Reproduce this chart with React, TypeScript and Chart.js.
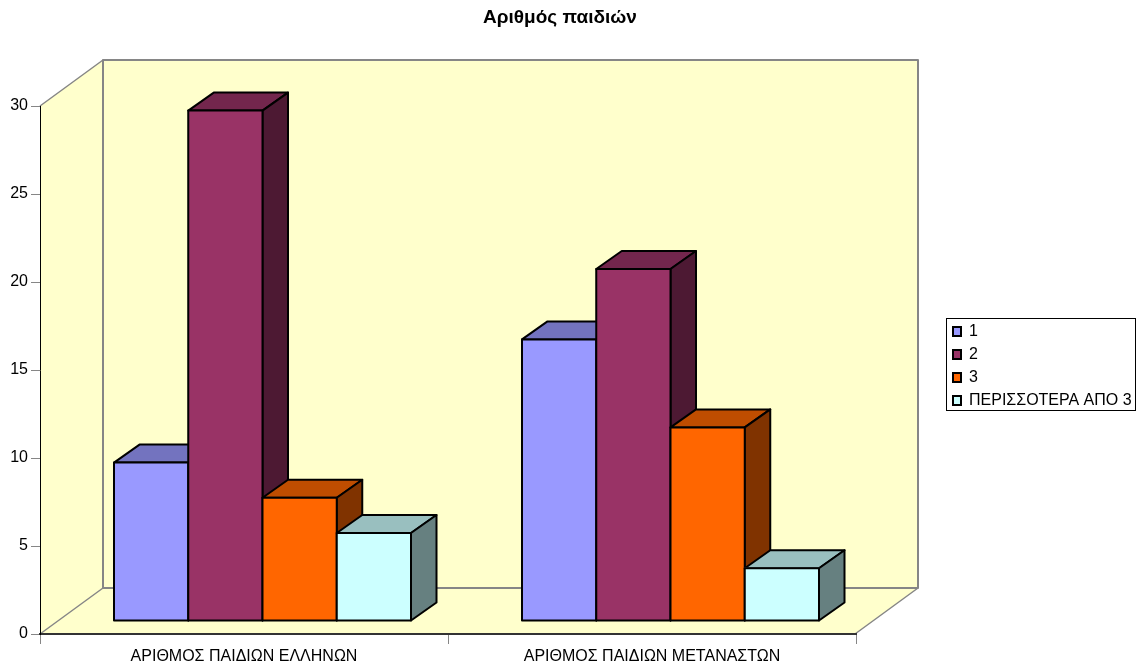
import React, { useEffect, useRef } from "react";
import { Chart, registerables } from "chart.js";

Chart.register(...registerables);

// Chart values
const categories = ["ΑΡΙΘΜΟΣ ΠΑΙΔΙΩΝ ΕΛΛΗΝΩΝ", "ΑΡΙΘΜΟΣ ΠΑΙΔΙΩΝ ΜΕΤΑΝΑΣΤΩΝ"];
const seriesNames = ["1", "2", "3", "ΠΕΡΙΣΣΟΤΕΡΑ ΑΠΟ 3"];
const seriesOne = [9, 16];
const seriesTwo = [29, 20];
const seriesThree = [7, 11];
const seriesMore = [5, 3];

// Face colours: front, top (darkened) and side (darker still)
const frontColors = ["#9999FF", "#993366", "#FF6600", "#CCFFFF"];
const topColors = ["#7373BF", "#73264D", "#BF4D00", "#99BFBF"];
const sideColors = ["#4D4D80", "#4D1933", "#803300", "#668080"];

const FONT = "'Liberation Sans', Arial, sans-serif";
const WALL = "#FFFFCC";
const WALL_EDGE = "#868686";
const LINE = "#000000";
const EDGE_WIDTH = 2;

// Perspective offsets of the box: the whole room, and a single bar
const ROOM = { dx: 63, dy: -46 };
const BAR = { dx: 25.5, dy: -18 };
// Bars stand on the middle of the floor
const FLOOR_SHIFT = { x: 18.5, y: -13 };

const polygon = (ctx: CanvasRenderingContext2D, pts: number[][], fill: string | null, stroke: string | null, width = 1) => {
  ctx.beginPath();
  pts.forEach(([x, y], i) => (i ? ctx.lineTo(x, y) : ctx.moveTo(x, y)));
  ctx.closePath();
  if (fill) {
    ctx.fillStyle = fill;
    ctx.fill();
  }
  if (stroke) {
    ctx.strokeStyle = stroke;
    ctx.lineWidth = width;
    ctx.lineJoin = "round";
    ctx.stroke();
  }
};

const roomPlugin = {
  id: "room",
  afterLayout(chart: any) {
    // Legend and title sit apart from the plot area
    const legend = chart.legend;
    legend.left = 946;
    legend.top = 316.5;
    legend.right = legend.left + legend.width;
    legend.bottom = legend.top + legend.height;
    const title = chart.titleBlock;
    title.left = 0;
    title.right = 1120;
  },
  beforeDraw(chart: any) {
    const { ctx, chartArea: a } = chart;
    const { dx, dy } = ROOM;
    const right = a.right - 1;
    ctx.save();
    // side wall, floor and back wall
    polygon(ctx, [[a.left, a.top], [a.left + dx, a.top + dy], [a.left + dx, a.bottom + dy], [a.left, a.bottom]], WALL, null);
    polygon(ctx, [[a.left, a.bottom], [a.left + dx, a.bottom + dy], [right + dx, a.bottom + dy], [right, a.bottom]], WALL, null);
    polygon(ctx, [[a.left + dx, a.top + dy], [right + dx, a.top + dy], [right + dx, a.bottom + dy], [a.left + dx, a.bottom + dy]], WALL, WALL_EDGE, 2);
    ctx.strokeStyle = WALL_EDGE;
    ctx.lineWidth = 1.5;
    ctx.beginPath();
    ctx.moveTo(a.left, a.top);
    ctx.lineTo(a.left + dx, a.top + dy);
    ctx.moveTo(a.left, a.bottom);
    ctx.lineTo(a.left + dx, a.bottom + dy);
    ctx.moveTo(right, a.bottom);
    ctx.lineTo(right + dx, a.bottom + dy);
    ctx.stroke();
    ctx.restore();
  },
  beforeDatasetsDraw(chart: any) {
    // Bars are painted left to right so each one hides its neighbour's side face
    const { ctx } = chart;
    const { dx, dy } = BAR;
    ctx.save();
    ctx.translate(FLOOR_SHIFT.x, FLOOR_SHIFT.y);
    seriesNames.forEach((_, i) => {
      const meta = chart.getDatasetMeta(i);
      meta.data.forEach((bar: any) => {
        const { x, y, base, width } = bar.getProps(["x", "y", "base", "width"], true);
        const l = x - width / 2;
        const r = x + width / 2;
        polygon(ctx, [[l, y], [l + dx, y + dy], [r + dx, y + dy], [r, y]], topColors[i], LINE, EDGE_WIDTH);
        polygon(ctx, [[r, y], [r + dx, y + dy], [r + dx, base + dy], [r, base]], sideColors[i], LINE, EDGE_WIDTH);
        bar.draw(ctx, chart.chartArea);
        polygon(ctx, [[l, y], [r, y], [r, base], [l, base]], null, LINE, EDGE_WIDTH);
      });
    });
    ctx.restore();
  },
  beforeDatasetDraw() {
    return false;
  },
  afterDraw(chart: any) {
    // Frame round the legend
    const { ctx } = chart;
    ctx.save();
    ctx.strokeStyle = LINE;
    ctx.lineWidth = 1;
    ctx.strokeRect(946.5, 318.5, 189, 92);
    ctx.restore();
  },
};

export default function App() {
  const ref = useRef<HTMLCanvasElement>(null);

  useEffect(() => {
    const values = [seriesOne, seriesTwo, seriesThree, seriesMore];
    const chart = new Chart(ref.current!, {
      type: "bar",
      data: {
        labels: categories,
        datasets: seriesNames.map((label, i) => ({
          label,
          data: values[i],
          backgroundColor: frontColors[i],
          borderWidth: 0,
          barThickness: 74.25,
        })),
      },
      plugins: [roomPlugin],
      options: {
        responsive: false,
        animation: false,
        layout: { padding: { left: 0, top: 0, right: 280, bottom: 0 } },
        plugins: {
          title: {
            display: true,
            text: "Αριθμός παιδιών",
            color: "#000",
            font: { family: FONT, size: 19, weight: "bold", lineHeight: 1.2 },
            padding: { top: 6, bottom: 77.2 },
          },
          legend: {
            position: "chartArea" as any,
            align: "start",
            labels: {
              boxWidth: 8,
              boxHeight: 9,
              padding: 7,
              color: "#000",
              font: { family: FONT, size: 16 },
              generateLabels: (c: any) =>
                Chart.defaults.plugins.legend.labels.generateLabels(c).map((item: any) => ({
                  ...item,
                  strokeStyle: LINE,
                  lineWidth: EDGE_WIDTH,
                })),
            },
          },
          tooltip: { enabled: false },
        },
        scales: {
          x: {
            afterFit: (s: any) => {
              s.height = 32;
            },
            grid: { drawOnChartArea: false, tickLength: 10, tickColor: WALL_EDGE, tickWidth: 1 },
            border: { color: "#333333", width: 2 },
            ticks: { color: "#000", font: { family: FONT, size: 16 }, padding: 3, maxRotation: 0 },
          },
          y: {
            min: 0,
            max: 30,
            afterFit: (s: any) => {
              s.width = 40;
            },
            grid: { drawOnChartArea: false, tickLength: 9, tickColor: WALL_EDGE, tickWidth: 1 },
            border: { color: "#000", width: 1 },
            ticks: { stepSize: 5, color: "#000", font: { family: FONT, size: 16 }, padding: 3 },
          },
        },
      },
    });
    return () => chart.destroy();
  }, []);

  return <canvas ref={ref} width={1136} height={666} style={{ position: "absolute", left: 0, top: 0 }} />;
}
